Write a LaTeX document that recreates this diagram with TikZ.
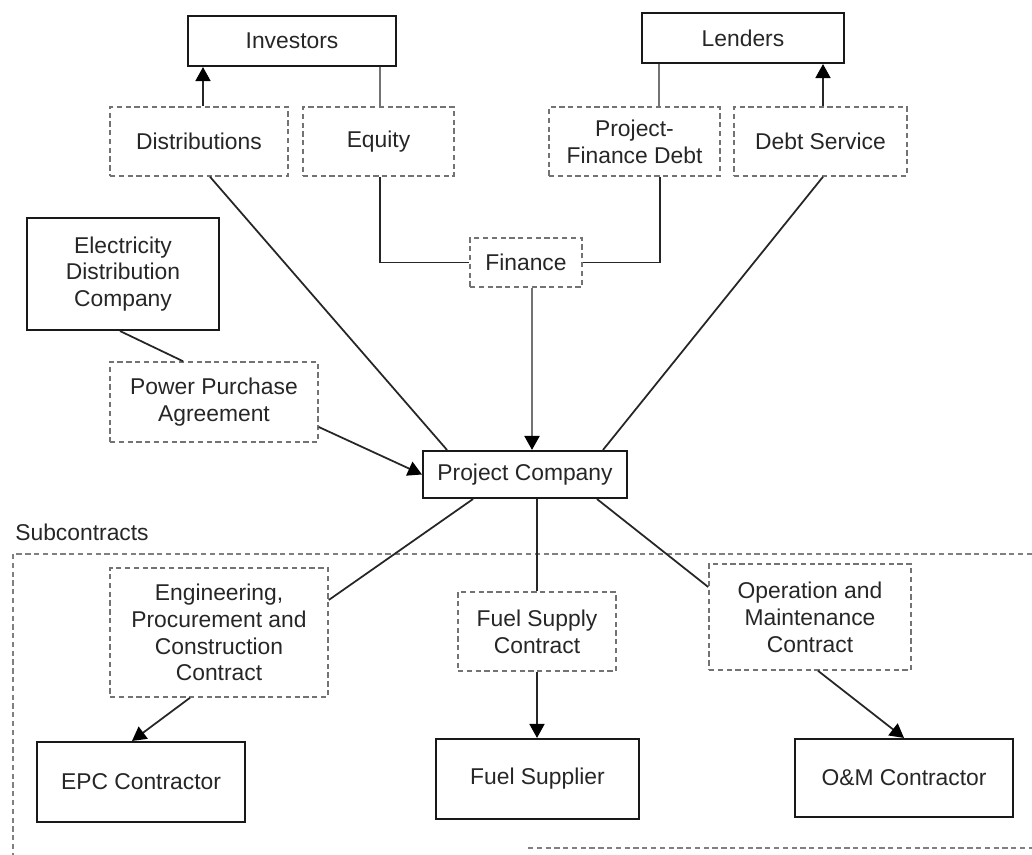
\documentclass[tikz,border=0pt]{standalone}
\usepackage{fontspec}
\setmainfont{Liberation Sans}
\usetikzlibrary{arrows.meta}
\begin{document}
\begin{tikzpicture}[x=0.02cm,y=-0.02cm,
  font=\fontsize{13}{15.3}\selectfont,
  solidbox/.style={draw=black!90, line width=1.2pt, align=center, inner sep=0pt, text=black!85},
  dashbox/.style={draw=black!55, densely dashed, line width=0.9pt, align=center, inner sep=0pt, text=black!85},
  conn/.style={draw=black!85, line width=1pt},
  greyconn/.style={draw=black!55, line width=1.2pt},
  arr/.style={-{Triangle[length=0.28cm,width=0.30cm,color=black]}},
  frame/.style={draw=black!50, densely dashed, line width=0.8pt}
]
\useasboundingbox (0,0) rectangle (1032,855);

% top boxes
\node[solidbox, minimum width=4.16cm, minimum height=1.0cm] (inv) at (292,41) {Investors};
\node[solidbox, minimum width=4.04cm, minimum height=1.0cm] (len) at (743,38) {Lenders};
\node[dashbox, minimum width=3.56cm, minimum height=1.38cm] (dist) at (199,141.5) {Distributions};
\node[dashbox, minimum width=3.02cm, minimum height=1.38cm] (eq) at (378.5,141.5) {Equity};
\node[dashbox, minimum width=3.42cm, minimum height=1.38cm] (pfd) at (634.5,141.5) {Project-\\Finance Debt};
\node[dashbox, minimum width=3.46cm, minimum height=1.38cm] (ds) at (820.5,141.5) {Debt Service};
\node[dashbox, minimum width=2.24cm, minimum height=0.98cm] (fin) at (526,262.5) {Finance};
\node[solidbox, minimum width=3.84cm, minimum height=2.24cm] (edc) at (123,274) {Electricity\\Distribution\\Company};
\node[dashbox, minimum width=4.16cm, minimum height=1.6cm] (ppa) at (214,402) {Power Purchase\\Agreement};
\node[solidbox, minimum width=4.08cm, minimum height=0.94cm] (pc) at (525,474.5) {Project Company};

% subcontracts
\node[anchor=base west, inner sep=0pt, text=black!85] (sublabel) at (15,540) {Subcontracts};
\draw[frame] (1032,554) -- (13,554) -- (13,855);
\draw[frame] (528,848) -- (1032,848);

\node[dashbox, minimum width=4.36cm, minimum height=2.58cm] (epcc) at (219,632.5) {Engineering,\\Procurement and\\Construction\\Contract};
\node[solidbox, minimum width=4.16cm, minimum height=1.6cm] (epc) at (141,782) {EPC Contractor};
\node[dashbox, minimum width=3.16cm, minimum height=1.58cm] (fsc) at (537,631.5) {Fuel Supply\\Contract};
\node[solidbox, minimum width=4.06cm, minimum height=1.6cm] (fs) at (537.5,779) {Fuel Supplier};
\node[dashbox, minimum width=4.04cm, minimum height=2.12cm] (omc) at (810,617) {Operation and\\Maintenance\\Contract};
\node[solidbox, minimum width=4.36cm, minimum height=1.56cm] (om) at (904,778) {O\&M Contractor};

% connectors - finance side
\draw[conn, arr] ([xshift=0.08cm]dist.north) -- ([xshift=0.08cm]dist.north |- inv.south);
\draw[greyconn] ([xshift=0.03cm]eq.north) -- ([xshift=0.03cm]eq.north |- inv.south);
\draw[conn] ([xshift=0.03cm]eq.south) |- (fin.west);
\draw[conn] ([xshift=0.51cm]pfd.south) |- (fin.east);
\draw[greyconn] ([xshift=0.49cm]pfd.north) -- ([xshift=0.49cm]pfd.north |- len.south);
\draw[conn, arr] ([xshift=0.05cm]ds.north) -- ([xshift=0.05cm]ds.north |- len.south);
\draw[greyconn, arr] ([xshift=0.12cm]fin.south) -- ([xshift=0.12cm]fin.south |- pc.north);
\draw[conn] ([xshift=0.05cm]ds.south) -- ([xshift=1.56cm]pc.north);
\draw[conn] ([xshift=0.22cm]dist.south) -- ([xshift=-1.56cm]pc.north);
\draw[conn] ([xshift=-0.06cm]edc.south) -- ([xshift=-0.62cm]ppa.north);
\draw[conn, arr] ([yshift=-0.5cm]ppa.east) -- (pc.west);

% connectors - subcontracts
\draw[conn] ([xshift=-1.04cm]pc.south) -- ([yshift=0.65cm]epcc.east);
\draw[conn, arr] ([xshift=-0.58cm]epcc.south) -- ([xshift=-0.18cm]epc.north);
\draw[conn] (fsc.north |- pc.south) -- (fsc.north);
\draw[conn, arr] (fsc.south) -- (fsc.south |- fs.north);
\draw[conn] ([xshift=1.44cm]pc.south) -- ([yshift=0.6cm]omc.west);
\draw[conn, arr] ([xshift=0.16cm]omc.south) -- (om.north);
\end{tikzpicture}
\end{document}
